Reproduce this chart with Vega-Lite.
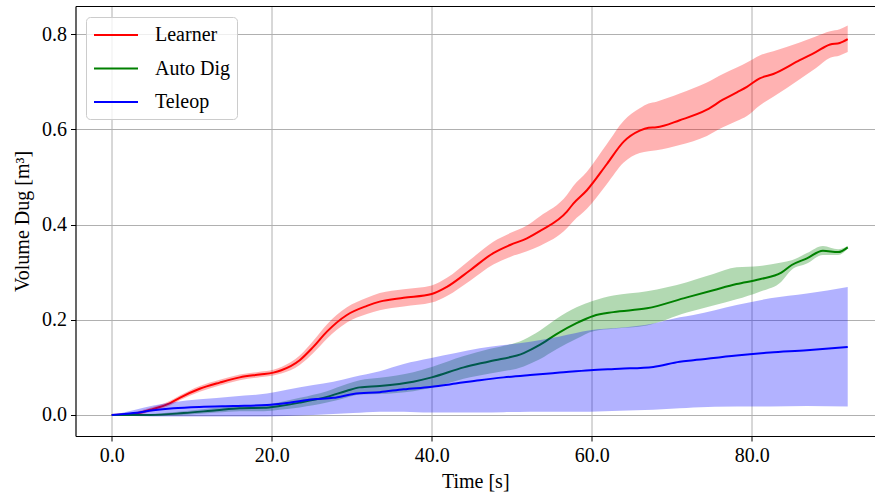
{
  "$schema": "https://vega.github.io/schema/vega-lite/v6.json",
  "width": 799.5,
  "height": 430,
  "autosize": {"type": "none"},
  "padding": {"left": 75.5, "top": 6, "right": 0, "bottom": 57},
  "background": "white",
  "config": {
    "view": {"stroke": null},
    "font": "Liberation Serif",
    "axis": {
      "labelFont": "Liberation Serif",
      "labelFontSize": 20,
      "labelColor": "black",
      "titleFont": "Liberation Serif",
      "titleFontSize": 20,
      "titleFontWeight": "normal",
      "titleColor": "black",
      "tickColor": "black",
      "tickSize": 5,
      "tickWidth": 1,
      "domainColor": "black",
      "domainWidth": 1.2,
      "gridColor": "#b0b0b0",
      "gridWidth": 1,
      "gridOpacity": 1,
      "labelPadding": 4
    },
    "legend": {
      "orient": "none",
      "legendX": 10.5,
      "legendY": 11,
      "strokeColor": "#cccccc",
      "fillColor": "rgba(255,255,255,0.8)",
      "cornerRadius": 4,
      "padding": 7,
      "symbolType": "M-2.2,0H2.2",
      "symbolSize": 400,
      "symbolOffset": 12,
      "symbolStrokeWidth": 2,
      "labelFont": "Liberation Serif",
      "labelFontSize": 20,
      "labelColor": "black",
      "labelOffset": 28,
      "rowPadding": 12.5,
      "title": null
    }
  },
  "data": {
    "values": [
      {"s": "Learner", "t": 0, "y": 0, "lo": 0, "hi": 0},
      {"s": "Learner", "t": 2.7, "y": 0.002, "lo": -0.001, "hi": 0.005},
      {"s": "Learner", "t": 4.8, "y": 0.011, "lo": 0.007, "hi": 0.015},
      {"s": "Learner", "t": 7.3, "y": 0.025, "lo": 0.02, "hi": 0.03},
      {"s": "Learner", "t": 8.5, "y": 0.036, "lo": 0.031, "hi": 0.041},
      {"s": "Learner", "t": 11, "y": 0.055, "lo": 0.049, "hi": 0.061},
      {"s": "Learner", "t": 13.5, "y": 0.068, "lo": 0.062, "hi": 0.074},
      {"s": "Learner", "t": 16, "y": 0.079, "lo": 0.073, "hi": 0.085},
      {"s": "Learner", "t": 18.5, "y": 0.085, "lo": 0.079, "hi": 0.091},
      {"s": "Learner", "t": 20.2, "y": 0.089, "lo": 0.083, "hi": 0.095},
      {"s": "Learner", "t": 21.2, "y": 0.094, "lo": 0.087, "hi": 0.101},
      {"s": "Learner", "t": 23.5, "y": 0.115, "lo": 0.105, "hi": 0.125},
      {"s": "Learner", "t": 25.2, "y": 0.143, "lo": 0.13, "hi": 0.156},
      {"s": "Learner", "t": 26.9, "y": 0.175, "lo": 0.16, "hi": 0.19},
      {"s": "Learner", "t": 29.4, "y": 0.21, "lo": 0.194, "hi": 0.226},
      {"s": "Learner", "t": 31.9, "y": 0.229, "lo": 0.212, "hi": 0.246},
      {"s": "Learner", "t": 33.5, "y": 0.238, "lo": 0.22, "hi": 0.256},
      {"s": "Learner", "t": 36.5, "y": 0.246, "lo": 0.228, "hi": 0.264},
      {"s": "Learner", "t": 40, "y": 0.254, "lo": 0.236, "hi": 0.272},
      {"s": "Learner", "t": 41.9, "y": 0.269, "lo": 0.25, "hi": 0.288},
      {"s": "Learner", "t": 44.8, "y": 0.304, "lo": 0.282, "hi": 0.326},
      {"s": "Learner", "t": 47.7, "y": 0.34, "lo": 0.316, "hi": 0.364},
      {"s": "Learner", "t": 49.8, "y": 0.357, "lo": 0.332, "hi": 0.382},
      {"s": "Learner", "t": 51.9, "y": 0.371, "lo": 0.344, "hi": 0.398},
      {"s": "Learner", "t": 53.5, "y": 0.386, "lo": 0.355, "hi": 0.417},
      {"s": "Learner", "t": 56.9, "y": 0.427, "lo": 0.392, "hi": 0.462},
      {"s": "Learner", "t": 57.7, "y": 0.444, "lo": 0.407, "hi": 0.481},
      {"s": "Learner", "t": 59.4, "y": 0.472, "lo": 0.433, "hi": 0.511},
      {"s": "Learner", "t": 61.9, "y": 0.527, "lo": 0.485, "hi": 0.569},
      {"s": "Learner", "t": 64, "y": 0.574, "lo": 0.53, "hi": 0.618},
      {"s": "Learner", "t": 66, "y": 0.597, "lo": 0.55, "hi": 0.644},
      {"s": "Learner", "t": 67.1, "y": 0.603, "lo": 0.554, "hi": 0.654},
      {"s": "Learner", "t": 68.1, "y": 0.604, "lo": 0.556, "hi": 0.658},
      {"s": "Learner", "t": 71, "y": 0.619, "lo": 0.567, "hi": 0.675},
      {"s": "Learner", "t": 74.4, "y": 0.641, "lo": 0.586, "hi": 0.698},
      {"s": "Learner", "t": 76.4, "y": 0.662, "lo": 0.604, "hi": 0.716},
      {"s": "Learner", "t": 78.2, "y": 0.678, "lo": 0.618, "hi": 0.73},
      {"s": "Learner", "t": 79.4, "y": 0.689, "lo": 0.628, "hi": 0.74},
      {"s": "Learner", "t": 81, "y": 0.707, "lo": 0.65, "hi": 0.755},
      {"s": "Learner", "t": 82.7, "y": 0.716, "lo": 0.668, "hi": 0.764},
      {"s": "Learner", "t": 86, "y": 0.745, "lo": 0.705, "hi": 0.782},
      {"s": "Learner", "t": 88, "y": 0.762, "lo": 0.728, "hi": 0.795},
      {"s": "Learner", "t": 89.8, "y": 0.778, "lo": 0.75, "hi": 0.806},
      {"s": "Learner", "t": 91, "y": 0.781, "lo": 0.755, "hi": 0.81},
      {"s": "Learner", "t": 92, "y": 0.789, "lo": 0.762, "hi": 0.818},

      {"s": "Auto Dig", "t": 0, "y": 0, "lo": 0, "hi": 0},
      {"s": "Auto Dig", "t": 4.8, "y": 0.0, "lo": -0.002, "hi": 0.002},
      {"s": "Auto Dig", "t": 9, "y": 0.004, "lo": 0.0, "hi": 0.008},
      {"s": "Auto Dig", "t": 13.1, "y": 0.01, "lo": 0.005, "hi": 0.015},
      {"s": "Auto Dig", "t": 16, "y": 0.014, "lo": 0.008, "hi": 0.02},
      {"s": "Auto Dig", "t": 19, "y": 0.015, "lo": 0.008, "hi": 0.022},
      {"s": "Auto Dig", "t": 21, "y": 0.019, "lo": 0.011, "hi": 0.027},
      {"s": "Auto Dig", "t": 23.5, "y": 0.026, "lo": 0.016, "hi": 0.036},
      {"s": "Auto Dig", "t": 26.9, "y": 0.038, "lo": 0.026, "hi": 0.05},
      {"s": "Auto Dig", "t": 29.4, "y": 0.051, "lo": 0.037, "hi": 0.065},
      {"s": "Auto Dig", "t": 31, "y": 0.058, "lo": 0.043, "hi": 0.073},
      {"s": "Auto Dig", "t": 33.5, "y": 0.061, "lo": 0.044, "hi": 0.078},
      {"s": "Auto Dig", "t": 37.7, "y": 0.07, "lo": 0.05, "hi": 0.09},
      {"s": "Auto Dig", "t": 40, "y": 0.079, "lo": 0.057, "hi": 0.101},
      {"s": "Auto Dig", "t": 44, "y": 0.1, "lo": 0.076, "hi": 0.124},
      {"s": "Auto Dig", "t": 47.3, "y": 0.113, "lo": 0.087, "hi": 0.139},
      {"s": "Auto Dig", "t": 51.5, "y": 0.13, "lo": 0.102, "hi": 0.158},
      {"s": "Auto Dig", "t": 53.5, "y": 0.147, "lo": 0.117, "hi": 0.177},
      {"s": "Auto Dig", "t": 55.6, "y": 0.17, "lo": 0.138, "hi": 0.202},
      {"s": "Auto Dig", "t": 58.1, "y": 0.193, "lo": 0.16, "hi": 0.226},
      {"s": "Auto Dig", "t": 60.2, "y": 0.208, "lo": 0.176, "hi": 0.24},
      {"s": "Auto Dig", "t": 62.7, "y": 0.216, "lo": 0.181, "hi": 0.251},
      {"s": "Auto Dig", "t": 66.9, "y": 0.224, "lo": 0.188, "hi": 0.26},
      {"s": "Auto Dig", "t": 71.9, "y": 0.247, "lo": 0.215, "hi": 0.279},
      {"s": "Auto Dig", "t": 75.2, "y": 0.262, "lo": 0.23, "hi": 0.296},
      {"s": "Auto Dig", "t": 78.1, "y": 0.275, "lo": 0.243, "hi": 0.31},
      {"s": "Auto Dig", "t": 81, "y": 0.285, "lo": 0.259, "hi": 0.313},
      {"s": "Auto Dig", "t": 83.7, "y": 0.299, "lo": 0.28, "hi": 0.32},
      {"s": "Auto Dig", "t": 85, "y": 0.315, "lo": 0.305, "hi": 0.325},
      {"s": "Auto Dig", "t": 86.9, "y": 0.329, "lo": 0.318, "hi": 0.34},
      {"s": "Auto Dig", "t": 88.9, "y": 0.345, "lo": 0.336, "hi": 0.355},
      {"s": "Auto Dig", "t": 90.8, "y": 0.342, "lo": 0.336, "hi": 0.348},
      {"s": "Auto Dig", "t": 92, "y": 0.352, "lo": 0.349, "hi": 0.355},

      {"s": "Teleop", "t": 0, "y": 0, "lo": 0, "hi": 0},
      {"s": "Teleop", "t": 2.7, "y": 0.004, "lo": -0.002, "hi": 0.01},
      {"s": "Teleop", "t": 5.2, "y": 0.01, "lo": -0.003, "hi": 0.02},
      {"s": "Teleop", "t": 7.7, "y": 0.014, "lo": -0.003, "hi": 0.027},
      {"s": "Teleop", "t": 11, "y": 0.017, "lo": -0.003, "hi": 0.033},
      {"s": "Teleop", "t": 15.2, "y": 0.019, "lo": -0.003, "hi": 0.039},
      {"s": "Teleop", "t": 19.4, "y": 0.021, "lo": -0.003, "hi": 0.045},
      {"s": "Teleop", "t": 21.9, "y": 0.025, "lo": -0.002, "hi": 0.053},
      {"s": "Teleop", "t": 25.2, "y": 0.033, "lo": 0.0, "hi": 0.063},
      {"s": "Teleop", "t": 27.7, "y": 0.036, "lo": 0.002, "hi": 0.07},
      {"s": "Teleop", "t": 30.2, "y": 0.044, "lo": 0.004, "hi": 0.08},
      {"s": "Teleop", "t": 33.5, "y": 0.048, "lo": 0.007, "hi": 0.092},
      {"s": "Teleop", "t": 36.5, "y": 0.054, "lo": 0.007, "hi": 0.107},
      {"s": "Teleop", "t": 39.8, "y": 0.059, "lo": 0.005, "hi": 0.119},
      {"s": "Teleop", "t": 43, "y": 0.066, "lo": 0.005, "hi": 0.13},
      {"s": "Teleop", "t": 46, "y": 0.073, "lo": 0.005, "hi": 0.14},
      {"s": "Teleop", "t": 49, "y": 0.079, "lo": 0.006, "hi": 0.147},
      {"s": "Teleop", "t": 52.3, "y": 0.084, "lo": 0.007, "hi": 0.154},
      {"s": "Teleop", "t": 56, "y": 0.089, "lo": 0.007, "hi": 0.165},
      {"s": "Teleop", "t": 59.8, "y": 0.094, "lo": 0.007, "hi": 0.178},
      {"s": "Teleop", "t": 63.5, "y": 0.097, "lo": 0.009, "hi": 0.183},
      {"s": "Teleop", "t": 67.7, "y": 0.101, "lo": 0.011, "hi": 0.192},
      {"s": "Teleop", "t": 71, "y": 0.112, "lo": 0.014, "hi": 0.205},
      {"s": "Teleop", "t": 72.7, "y": 0.115, "lo": 0.016, "hi": 0.21},
      {"s": "Teleop", "t": 78.1, "y": 0.125, "lo": 0.018, "hi": 0.231},
      {"s": "Teleop", "t": 82.3, "y": 0.131, "lo": 0.018, "hi": 0.245},
      {"s": "Teleop", "t": 86.9, "y": 0.136, "lo": 0.019, "hi": 0.255},
      {"s": "Teleop", "t": 92, "y": 0.143, "lo": 0.018, "hi": 0.269}
    ]
  },
  "resolve": {"axis": {"x": "independent", "y": "independent"}},
  "layer": [
    {
      "transform": [{"filter": "datum.s === 'Learner'"}],
      "mark": {"type": "area", "color": "#ff0000", "fillOpacity": 0.3, "strokeWidth": 0, "interpolate": "monotone"},
      "encoding": {
        "x": {"field": "t", "type": "quantitative", "scale": {"domain": [-4.525, 95.41], "nice": false, "zero": false},
          "axis": {"orient": "bottom", "title": "Time [s]", "values": [0, 20, 40, 60, 80], "format": ".1f", "titlePadding": 6}},
        "y": {"field": "lo", "type": "quantitative", "scale": {"domain": [-0.0441, 0.8588], "nice": false, "zero": false},
          "axis": {"orient": "left", "title": "Volume Dug [m³]", "values": [0, 0.2, 0.4, 0.6, 0.8], "format": ".1f", "titlePadding": 9}},
        "y2": {"field": "hi"}
      }
    },
    {
      "transform": [{"filter": "datum.s === 'Learner'"}],
      "mark": {"type": "line", "strokeWidth": 2, "interpolate": "monotone"},
      "encoding": {
        "x": {"field": "t", "type": "quantitative", "axis": {"orient": "top", "labels": false, "ticks": false, "grid": false, "title": null}},
        "y": {"field": "y", "type": "quantitative", "axis": null},
        "color": {"field": "s", "type": "nominal", "scale": {"domain": ["Learner", "Auto Dig", "Teleop"], "range": ["#ff0000", "#008000", "#0000ff"]}}
      }
    },
    {
      "transform": [{"filter": "datum.s === 'Auto Dig'"}],
      "mark": {"type": "area", "color": "#008000", "fillOpacity": 0.3, "strokeWidth": 0, "interpolate": "monotone"},
      "encoding": {
        "x": {"field": "t", "type": "quantitative", "axis": null},
        "y": {"field": "lo", "type": "quantitative", "axis": null},
        "y2": {"field": "hi"}
      }
    },
    {
      "transform": [{"filter": "datum.s === 'Auto Dig'"}],
      "mark": {"type": "line", "strokeWidth": 2, "interpolate": "monotone"},
      "encoding": {
        "x": {"field": "t", "type": "quantitative", "axis": null},
        "y": {"field": "y", "type": "quantitative", "axis": null},
        "color": {"field": "s", "type": "nominal"}
      }
    },
    {
      "transform": [{"filter": "datum.s === 'Teleop'"}],
      "mark": {"type": "area", "color": "#0000ff", "fillOpacity": 0.3, "strokeWidth": 0, "interpolate": "monotone"},
      "encoding": {
        "x": {"field": "t", "type": "quantitative", "axis": null},
        "y": {"field": "lo", "type": "quantitative", "axis": null},
        "y2": {"field": "hi"}
      }
    },
    {
      "transform": [{"filter": "datum.s === 'Teleop'"}],
      "mark": {"type": "line", "strokeWidth": 2, "interpolate": "monotone"},
      "encoding": {
        "x": {"field": "t", "type": "quantitative", "axis": null},
        "y": {"field": "y", "type": "quantitative", "axis": null},
        "color": {"field": "s", "type": "nominal"}
      }
    }
  ]
}
